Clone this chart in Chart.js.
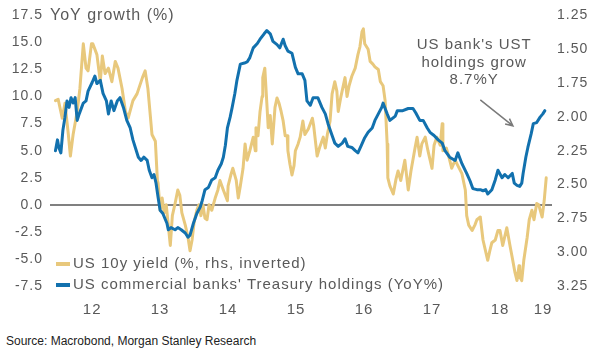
<!DOCTYPE html>
<html>
<head>
<meta charset="utf-8">
<script src="https://cdn.jsdelivr.net/npm/chart.js@4"></script>
<style>
  html, body { margin: 0; padding: 0; background: #fff; }
  #wrap { position: relative; width: 602px; height: 359px; }
  #chartBox { position: absolute; left: 0; top: 0; width: 602px; height: 322px; }
  #source { position: absolute; left: 6px; top: 334px; font: 12px "Liberation Sans", Arial, sans-serif; color: #222; }
</style>
</head>
<body>
<div id="wrap">
  <div id="chartBox"><canvas id="chart"></canvas></div>
  <div id="source">Source: Macrobond, Morgan Stanley Research</div>
</div>
<script>
// x positions are decimal years
const blueDates = [
  2011.96, 2011.99, 2012.01, 2012.04, 2012.07, 2012.10, 2012.13, 2012.16, 2012.19, 2012.22,
  2012.25, 2012.28, 2012.31, 2012.37, 2012.41, 2012.44, 2012.50, 2012.54, 2012.57, 2012.62,
  2012.66, 2012.71, 2012.74, 2012.78, 2012.82, 2012.87, 2012.91, 2012.96, 2013.01, 2013.06,
  2013.10, 2013.15, 2013.18, 2013.22, 2013.26, 2013.31, 2013.34, 2013.38, 2013.41, 2013.44,
  2013.47, 2013.50, 2013.54, 2013.60, 2013.62, 2013.66, 2013.72, 2013.76, 2013.81, 2013.87,
  2013.91, 2013.94, 2013.99, 2014.04, 2014.09, 2014.12, 2014.16, 2014.21, 2014.26, 2014.31,
  2014.35, 2014.40, 2014.43, 2014.46, 2014.49, 2014.53, 2014.56, 2014.60, 2014.63, 2014.68,
  2014.74, 2014.78, 2014.82, 2014.87, 2014.93, 2014.97, 2015.03, 2015.07, 2015.12, 2015.16,
  2015.22, 2015.26, 2015.31, 2015.34, 2015.38, 2015.44, 2015.49, 2015.53, 2015.59, 2015.63,
  2015.66, 2015.71, 2015.75, 2015.82, 2015.88, 2015.93, 2015.97, 2016.03, 2016.07, 2016.12,
  2016.18, 2016.22, 2016.26, 2016.32, 2016.37, 2016.41, 2016.46, 2016.51, 2016.56, 2016.62,
  2016.66, 2016.71, 2016.76, 2016.78, 2016.84, 2016.88, 2016.96, 2016.99, 2017.07, 2017.15,
  2017.22, 2017.26, 2017.32, 2017.37, 2017.43, 2017.47, 2017.53, 2017.59, 2017.65, 2017.69,
  2017.76, 2017.84, 2017.88, 2017.94, 2018.01, 2018.06, 2018.10, 2018.16, 2018.21, 2018.25,
  2018.29, 2018.32, 2018.38, 2018.43, 2018.47, 2018.53, 2018.57, 2018.62, 2018.68, 2018.71,
  2018.75, 2018.79, 2018.82, 2018.84, 2018.88, 2018.91, 2018.96, 2018.99, 2019.04, 2019.09,
  2019.13, 2019.16
];
// US commercial banks' Treasury holdings, YoY %
const blueValues = [
  5.0, 6.0, 5.3, 4.8, 6.9, 8.1, 9.6, 9.0, 9.9, 9.4,
  9.9, 7.8, 8.4, 9.4, 9.6, 10.5, 11.3, 11.9, 11.2, 11.5,
  10.3, 9.6, 8.4, 9.6, 8.7, 9.6, 9.9, 9.0, 7.8, 7.1,
  6.0, 5.0, 4.4, 4.1, 4.4, 4.1, 3.2, 2.5, 2.8, 2.0,
  0.7, -0.5, -0.8, -1.7, -2.3, -2.1, -2.3, -2.1, -2.3, -2.6,
  -3.0, -2.8, -1.7, -0.8, -0.2, 0.4, 1.4, 1.6, 2.3, 2.5,
  3.2, 3.8, 4.4, 5.5, 7.1, 8.1, 9.0, 10.3, 11.5, 13.0,
  13.1, 13.2, 13.6, 14.5, 14.9, 15.3, 15.8, 16.1, 15.8, 15.1,
  14.8, 14.5, 15.3, 14.7, 14.2, 14.0, 12.7, 12.1, 12.1, 11.5,
  9.6, 9.2, 9.9, 9.9, 9.0, 8.4, 7.5, 6.4, 5.7, 5.4,
  5.7, 6.1, 5.4, 5.3, 5.0, 4.8, 5.5, 6.2, 6.7, 7.1,
  7.8, 8.4, 9.0, 9.4, 8.4, 7.8, 8.2, 8.7, 8.7, 8.9,
  8.9, 8.5, 7.8, 7.8, 7.1, 6.7, 6.4, 6.0, 5.7, 5.0,
  4.4, 4.1, 4.8, 3.8, 2.9, 2.2, 1.5, 1.4, 1.4, 1.3,
  1.4, 1.0, 1.4, 2.3, 3.2, 2.5, 2.8, 2.5, 2.9, 2.0,
  1.8, 1.7, 2.0, 2.9, 4.4, 5.3, 6.6, 7.5, 7.6, 8.1,
  8.4, 8.7
];

const tanDates = [
  2011.96, 2012.00, 2012.06, 2012.10, 2012.15, 2012.18, 2012.22, 2012.28, 2012.32, 2012.37,
  2012.41, 2012.44, 2012.49, 2012.51, 2012.57, 2012.62, 2012.65, 2012.69, 2012.74, 2012.79,
  2012.84, 2012.88, 2012.94, 2012.99, 2013.03, 2013.10, 2013.16, 2013.24, 2013.28, 2013.32,
  2013.38, 2013.43, 2013.46, 2013.47, 2013.50, 2013.53, 2013.56, 2013.59, 2013.62, 2013.65,
  2013.68, 2013.72, 2013.76, 2013.79, 2013.82, 2013.87, 2013.91, 2013.94, 2013.97, 2014.00,
  2014.04, 2014.07, 2014.10, 2014.13, 2014.16, 2014.19, 2014.22, 2014.26, 2014.31, 2014.35,
  2014.38, 2014.43, 2014.49, 2014.50, 2014.54, 2014.57, 2014.62, 2014.65, 2014.68, 2014.72,
  2014.75, 2014.78, 2014.82, 2014.87, 2014.90, 2014.91, 2014.94, 2014.97, 2015.00, 2015.01,
  2015.04, 2015.07, 2015.09, 2015.12, 2015.15, 2015.19, 2015.22, 2015.25, 2015.28, 2015.31,
  2015.34, 2015.37, 2015.38, 2015.41, 2015.44, 2015.47, 2015.49, 2015.53, 2015.56, 2015.60,
  2015.63, 2015.68, 2015.74, 2015.76, 2015.81, 2015.85, 2015.90, 2015.93, 2015.96, 2016.00,
  2016.03, 2016.07, 2016.10, 2016.12, 2016.16, 2016.22, 2016.25, 2016.28, 2016.32, 2016.37,
  2016.41, 2016.44, 2016.47, 2016.49, 2016.51, 2016.56, 2016.59, 2016.63, 2016.66, 2016.71,
  2016.74, 2016.78, 2016.81, 2016.84, 2016.85, 2016.88, 2016.93, 2016.97, 2017.00, 2017.04,
  2017.10, 2017.15, 2017.19, 2017.25, 2017.28, 2017.32, 2017.35, 2017.40, 2017.44, 2017.50,
  2017.53, 2017.57, 2017.62, 2017.65, 2017.66, 2017.71, 2017.75, 2017.79, 2017.84, 2017.88,
  2017.94, 2017.99, 2018.01, 2018.04, 2018.09, 2018.13, 2018.16, 2018.21, 2018.25, 2018.31,
  2018.32, 2018.35, 2018.38, 2018.43, 2018.47, 2018.50, 2018.54, 2018.60, 2018.65, 2018.68,
  2018.72, 2018.75, 2018.78, 2018.79, 2018.82, 2018.85, 2018.90, 2018.93, 2018.97, 2019.00,
  2019.04, 2019.07, 2019.12, 2019.15, 2019.18
];
// US 10y yield, %, plotted on the inverted right axis
const tanValues = [
  1.88, 1.87, 2.01, 1.90, 2.13, 2.29, 2.13, 1.96, 1.79, 1.46,
  1.64, 1.66, 1.46, 1.46, 1.54, 1.74, 1.55, 1.68, 1.64, 1.74,
  1.59, 1.64, 1.79, 1.96, 2.01, 1.88, 1.83, 1.71, 1.66, 1.79,
  2.13, 2.18, 2.47, 2.49, 2.69, 2.60, 2.71, 2.65, 2.80, 2.95,
  2.73, 2.64, 2.54, 2.58, 2.71, 2.80, 2.89, 2.99, 2.91, 2.78,
  2.69, 2.65, 2.73, 2.65, 2.75, 2.76, 2.65, 2.69, 2.60, 2.54,
  2.47, 2.54, 2.62, 2.51, 2.43, 2.38, 2.47, 2.60, 2.51, 2.38,
  2.20, 2.32, 2.25, 2.15, 2.25, 2.08, 2.14, 1.96, 1.85, 1.71,
  1.64, 1.90, 2.08, 1.99, 2.20, 1.93, 1.86, 1.90, 1.96, 2.03,
  2.14, 2.14, 2.25, 2.35, 2.43, 2.36, 2.25, 2.20, 2.15, 2.03,
  2.13, 2.09, 2.01, 2.07, 2.29, 2.22, 2.15, 2.23, 2.13, 2.03,
  1.83, 1.74, 1.81, 1.96, 1.85, 1.71, 1.85, 1.77, 1.70, 1.64,
  1.54, 1.48, 1.37, 1.35, 1.46, 1.50, 1.59, 1.61, 1.63, 1.65,
  1.74, 1.77, 1.88, 2.20, 2.45, 2.51, 2.57, 2.46, 2.40, 2.47,
  2.32, 2.54, 2.40, 2.23, 2.15, 2.29, 2.20, 2.15, 2.25, 2.38,
  2.21, 2.15, 2.21, 2.05, 2.25, 2.23, 2.30, 2.38, 2.32, 2.36,
  2.42, 2.54, 2.73, 2.80, 2.84, 2.80, 2.76, 2.74, 2.91, 3.04,
  3.06, 2.99, 2.93, 2.91, 2.84, 2.84, 2.95, 2.82, 2.96, 3.04,
  3.15, 3.21, 3.10, 3.18, 3.21, 3.06, 2.89, 2.76, 2.69, 2.76,
  2.64, 2.65, 2.74, 2.62, 2.45
];

const yearLabels = ['12', '13', '14', '15', '16', '17', '18', '19'];
const leftTicks = [-7.5, -5, -2.5, 0, 2.5, 5, 7.5, 10, 12.5, 15, 17.5];
const rightTicks = [1.25, 1.5, 1.75, 2, 2.25, 2.5, 2.75, 3, 3.25];

const tanLabel = 'US 10y yield (%, rhs, inverted)';
const blueLabel = "US commercial banks' Treasury holdings (YoY%)";
const noteLines = ["US bank's UST", 'holdings grow', '8.7%Y'];

const X_MIN = 2011.88, X_MAX = 2019.265;
const TAN = '#E8C87C';
const BLUE = '#1271AE';
const GREY = '#595959';
const FONT = '"Liberation Sans", Arial, sans-serif';

// year label sits in the middle of the visible part of each year
const yearTickPos = yearLabels.map((l, i) => {
    const y0 = 2012 + i;
    return (Math.max(y0, X_MIN) + Math.min(y0 + 1, X_MAX)) / 2;
});

const toPoints = (xs, ys) => xs.map((x, i) => ({ x: x, y: ys[i] }));

// annotation anchors in data units (x: year, y: left axis)
const note = { x: 2018.12, ys: [14.8, 13.1, 11.5] };
const arrow = { x0: 2018.21, y0: 9.7, x1: 2018.69, y1: 7.3 };

const extras = {
    id: 'extras',
    beforeDraw(chart) {
        chart.ctx.letterSpacing = '1px';
    },
    afterDraw(chart) {
        const ctx = chart.ctx;
        const ca = chart.chartArea;
        const xs = chart.scales.x;
        const yl = chart.scales.y;
        ctx.save();
        ctx.fillStyle = GREY;
        ctx.textBaseline = 'middle';

        // axis title next to the top tick
        ctx.font = '16px ' + FONT;
        ctx.textAlign = 'left';
        ctx.fillText('YoY growth (%)', ca.left, yl.getPixelForValue(17.5));

        // legend inside the plot, bottom left
        ctx.font = '15px ' + FONT;
        const items = [
            { label: tanLabel, color: TAN, y: ca.bottom - 22 },
            { label: blueLabel, color: BLUE, y: ca.bottom - 1 }
        ];
        items.forEach(it => {
            ctx.strokeStyle = it.color;
            ctx.lineWidth = 4;
            ctx.beginPath();
            ctx.moveTo(ca.left + 6, it.y);
            ctx.lineTo(ca.left + 20, it.y);
            ctx.stroke();
            ctx.fillText(it.label, ca.left + 23, it.y);
        });

        // callout text
        ctx.textAlign = 'center';
        noteLines.forEach((t, i) => {
            ctx.fillText(t, xs.getPixelForValue(note.x), yl.getPixelForValue(note.ys[i]));
        });

        // arrow
        const ax0 = xs.getPixelForValue(arrow.x0), ay0 = yl.getPixelForValue(arrow.y0);
        const ax1 = xs.getPixelForValue(arrow.x1), ay1 = yl.getPixelForValue(arrow.y1);
        const ang = Math.atan2(ay1 - ay0, ax1 - ax0);
        ctx.strokeStyle = '#7a7a7a';
        ctx.lineWidth = 1.5;
        ctx.beginPath();
        ctx.moveTo(ax0, ay0);
        ctx.lineTo(ax1, ay1);
        ctx.moveTo(ax1 - 8 * Math.cos(ang - 0.45), ay1 - 8 * Math.sin(ang - 0.45));
        ctx.lineTo(ax1, ay1);
        ctx.lineTo(ax1 - 8 * Math.cos(ang + 0.45), ay1 - 8 * Math.sin(ang + 0.45));
        ctx.stroke();
        ctx.restore();
    }
};

new Chart(document.getElementById('chart'), {
    type: 'line',
    data: {
        datasets: [{
            label: blueLabel,
            data: toPoints(blueDates, blueValues),
            borderColor: BLUE,
            borderWidth: 3,
            yAxisID: 'y'
        }, {
            label: tanLabel,
            data: toPoints(tanDates, tanValues),
            borderColor: TAN,
            borderWidth: 3,
            yAxisID: 'y2'
        }]
    },
    options: {
        responsive: true,
        maintainAspectRatio: false,
        animation: false,
        events: [],
        layout: { padding: { top: 14, left: 0, right: 0, bottom: 0 } },
        elements: {
            point: { radius: 0 },
            line: { tension: 0, borderJoinStyle: 'round', borderCapStyle: 'round' }
        },
        plugins: {
            legend: { display: false },
            tooltip: { enabled: false }
        },
        scales: {
            x: {
                type: 'linear',
                min: X_MIN,
                max: X_MAX,
                grid: { display: false },
                border: { display: false },
                afterBuildTicks: s => { s.ticks = yearTickPos.map(v => ({ value: v })); },
                afterFit: s => { s.height = 36; },
                ticks: {
                    autoSkip: false,
                    maxRotation: 0,
                    padding: 7,
                    color: GREY,
                    font: { family: FONT, size: 15 },
                    callback: (v, i) => yearLabels[i]
                }
            },
            y: {
                position: 'left',
                min: -7.5,
                max: 17.5,
                border: { display: false },
                grid: {
                    drawTicks: false,
                    lineWidth: 2,
                    color: c => (c.tick && c.tick.value === 0 ? '#808080' : 'rgba(0,0,0,0)')
                },
                afterBuildTicks: s => { s.ticks = leftTicks.map(v => ({ value: v })); },
                afterFit: s => { s.width = 50; },
                ticks: {
                    padding: 7,
                    color: GREY,
                    font: { family: FONT, size: 14 },
                    callback: v => v.toFixed(1)
                }
            },
            y2: {
                position: 'right',
                reverse: true,
                min: 1.25,
                max: 3.25,
                border: { display: false },
                grid: { display: false, drawTicks: false },
                afterBuildTicks: s => { s.ticks = rightTicks.map(v => ({ value: v })); },
                afterFit: s => { s.width = 50; },
                ticks: {
                    padding: 5,
                    color: GREY,
                    font: { family: FONT, size: 14 },
                    callback: v => v.toFixed(2)
                }
            }
        }
    },
    plugins: [extras]
});
</script>
</body>
</html>
